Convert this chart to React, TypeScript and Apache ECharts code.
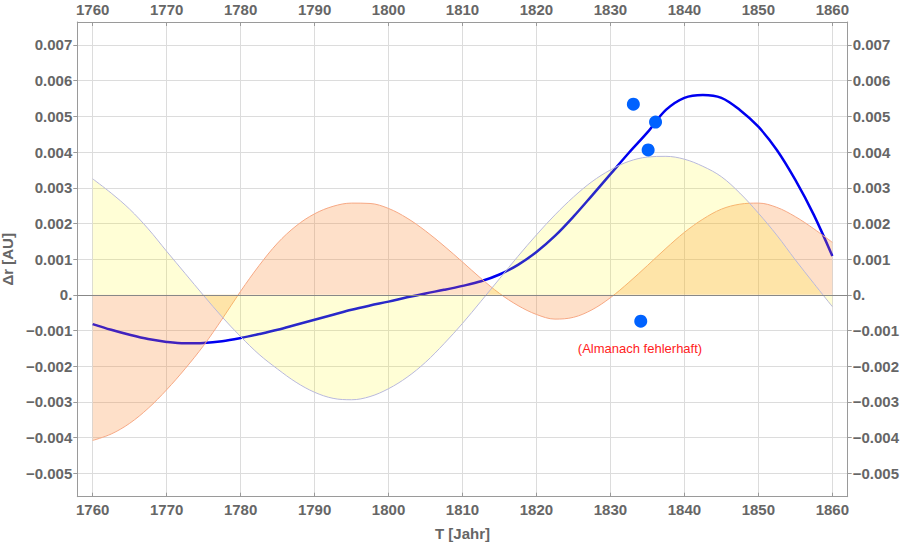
import React, { useEffect, useRef } from "react";
import * as echarts from "echarts";

// ---- data ----
const years = [
  1760, 1762.5, 1765, 1767.5, 1770, 1772.5, 1775, 1777.5, 1780, 1782.5,
  1785, 1787.5, 1790, 1792.5, 1795, 1797.5, 1800, 1802.5, 1805, 1807.5,
  1810, 1812.5, 1815, 1817.5, 1820, 1822.5, 1825, 1827.5, 1830, 1832.5,
  1835, 1837.5, 1840, 1842.5, 1845, 1847.5, 1850, 1852.5, 1855, 1857.5, 1860,
];

// yellow filled curve
const yellowValues = [
  0.00325, 0.00285, 0.0024, 0.00185, 0.00122, 0.0006, -0.00002, -0.00062, -0.00117, -0.00167,
  -0.00208, -0.00245, -0.00273, -0.0029, -0.00294, -0.00285, -0.00263, -0.00231, -0.00189, -0.00137,
  -0.0008, -0.00018, 0.00045, 0.00108, 0.00168, 0.00224, 0.00274, 0.00317, 0.0035, 0.00374,
  0.00386, 0.00388, 0.0038, 0.0036, 0.00331, 0.00285, 0.00229, 0.00167, 0.00098, 0.00032, -0.00033,
];

// orange filled curve
const orangeValues = [
  -0.00408, -0.0039, -0.0036, -0.00318, -0.00266, -0.00207, -0.00142, -0.00068, 0.0001, 0.00082,
  0.00145, 0.00193, 0.00227, 0.00248, 0.00257, 0.00256, 0.00242, 0.00215, 0.00179, 0.00137,
  0.00092, 0.00046, 0.00004, -0.0003, -0.00055, -0.00068, -0.00063, -0.00042, -0.00008, 0.00035,
  0.00082, 0.0013, 0.00175, 0.00212, 0.0024, 0.00254, 0.00257, 0.00245, 0.00219, 0.00185, 0.00147,
];

// blue curve
const blueValues = [
  -0.00082, -0.00098, -0.00112, -0.00124, -0.00132, -0.00136, -0.00135, -0.0013, -0.00121, -0.0011,
  -0.00098, -0.00084, -0.0007, -0.00056, -0.00042, -0.0003, -0.00019, -0.00007, 0.00004, 0.00014,
  0.00025, 0.00038, 0.00057, 0.00084, 0.0012, 0.00165, 0.00219, 0.00278, 0.00338, 0.00398,
  0.00455, 0.00518, 0.00552, 0.0056, 0.00552, 0.00518, 0.00471, 0.00406, 0.00322, 0.00224, 0.00109,
];

// observation points
const pointYears = [1833.1, 1836.1, 1835.1, 1834.1];
const pointValues = [0.00534, 0.00484, 0.00406, -0.00074];

// tick values
const xTicks = [1760, 1770, 1780, 1790, 1800, 1810, 1820, 1830, 1840, 1850, 1860];
const yTicks = [-0.005, -0.004, -0.003, -0.002, -0.001, 0, 0.001, 0.002, 0.003, 0.004, 0.005, 0.006, 0.007];

const annotation = "(Almanach fehlerhaft)";
const xName = "T [Jahr]";
const yName = "Δr [AU]";

const FONT = "'Liberation Sans', Arial, sans-serif";
const LABEL_COLOR = "#666";
const AXIS_COLOR = "#9a9a9a";

function fmtY(v: number): string {
  if (Math.abs(v) < 1e-9) return "0.";
  return (v < 0 ? "\u2212" : "") + Math.abs(v).toFixed(3);
}

function zip(xs: number[], ys: number[]): number[][] {
  return xs.map((x, i) => [x, ys[i]]);
}

export default function App() {
  const ref = useRef<HTMLDivElement>(null);

  useEffect(() => {
    document.body.style.margin = "0";
    if (!ref.current) return;
    const chart = echarts.init(ref.current, undefined, { renderer: "svg" });

    const labelStyle = {
      color: LABEL_COLOR,
      fontWeight: "bold" as const,
      fontSize: 15,
      fontFamily: FONT,
    };

    const xBase = (position: "top" | "bottom", grid: boolean) => ({
      type: "value" as const,
      position,
      min: 1757.92,
      max: 1862.08,
      axisLine: { show: true, onZero: false, lineStyle: { color: AXIS_COLOR, width: 1 } },
      axisTick: { show: true, inside: true, length: 4, customValues: xTicks, lineStyle: { color: AXIS_COLOR } },
      axisLabel: { ...labelStyle, customValues: xTicks, margin: 5, formatter: (v: number) => String(v) },
      splitLine: { show: grid, lineStyle: { color: "#dcdcdc", width: 1 } },
    });

    const yBase = (position: "left" | "right", grid: boolean) => ({
      type: "value" as const,
      position,
      min: -0.005656,
      max: 0.007644,
      axisLine: { show: true, onZero: false, lineStyle: { color: AXIS_COLOR, width: 1 } },
      axisTick: { show: true, inside: false, length: 4, customValues: yTicks, lineStyle: { color: AXIS_COLOR } },
      axisLabel: { ...labelStyle, customValues: yTicks, margin: 5, formatter: fmtY },
      splitLine: { show: grid, lineStyle: { color: "#dcdcdc", width: 1 } },
    });

    chart.setOption({
      animation: false,
      grid: {
        left: 77.3,
        right: 52.3,
        top: 22,
        bottom: 45.3,
        containLabel: false,
        outerBoundsMode: "none",
      },
      xAxis: [
        {
          ...xBase("bottom", true),
          name: xName,
          nameLocation: "middle",
          nameGap: 29,
          nameTextStyle: { ...labelStyle },
        },
        xBase("top", false),
      ],
      yAxis: [
        {
          ...yBase("left", true),
          name: yName,
          nameLocation: "middle",
          nameGap: 52,
          nameTextStyle: { ...labelStyle },
        },
        yBase("right", false),
      ],
      series: [
        {
          type: "line",
          name: "blue",
          data: zip(years, blueValues),
          smooth: 0.35,
          showSymbol: false,
          symbol: "none",
          lineStyle: { color: "#0000f0", width: 2.5 },
          z: 2,
        },
        {
          type: "line",
          name: "orange",
          data: zip(years, orangeValues),
          smooth: 0.35,
          showSymbol: false,
          symbol: "none",
          lineStyle: { color: "#f6a884", width: 1 },
          areaStyle: { color: "rgba(250,135,45,0.37)" },
          z: 3,
        },
        {
          type: "line",
          name: "yellow",
          data: zip(years, yellowValues),
          smooth: 0.35,
          showSymbol: false,
          symbol: "none",
          lineStyle: { color: "#b9b9dc", width: 1 },
          areaStyle: { color: "rgba(255,250,0,0.23)" },
          markLine: {
            silent: true,
            symbol: ["none", "none"],
            label: { show: false },
            lineStyle: { color: "#888", width: 1, type: "solid" },
            data: [{ yAxis: 0 }],
          },
          z: 4,
        },
        {
          type: "scatter",
          name: "points",
          data: zip(pointYears, pointValues),
          symbolSize: 13,
          itemStyle: { color: "#0062ff", opacity: 1 },
          z: 5,
        },
      ],
      graphic: [
        {
          type: "text",
          x: 640,
          y: 348,
          style: {
            text: annotation,
            fill: "#ff2222",
            fontSize: 13,
            fontFamily: FONT,
            align: "center",
            verticalAlign: "middle",
          },
          z: 10,
        },
      ],
    });

    return () => chart.dispose();
  }, []);

  return <div ref={ref} style={{ width: 900, height: 542 }} />;
}
